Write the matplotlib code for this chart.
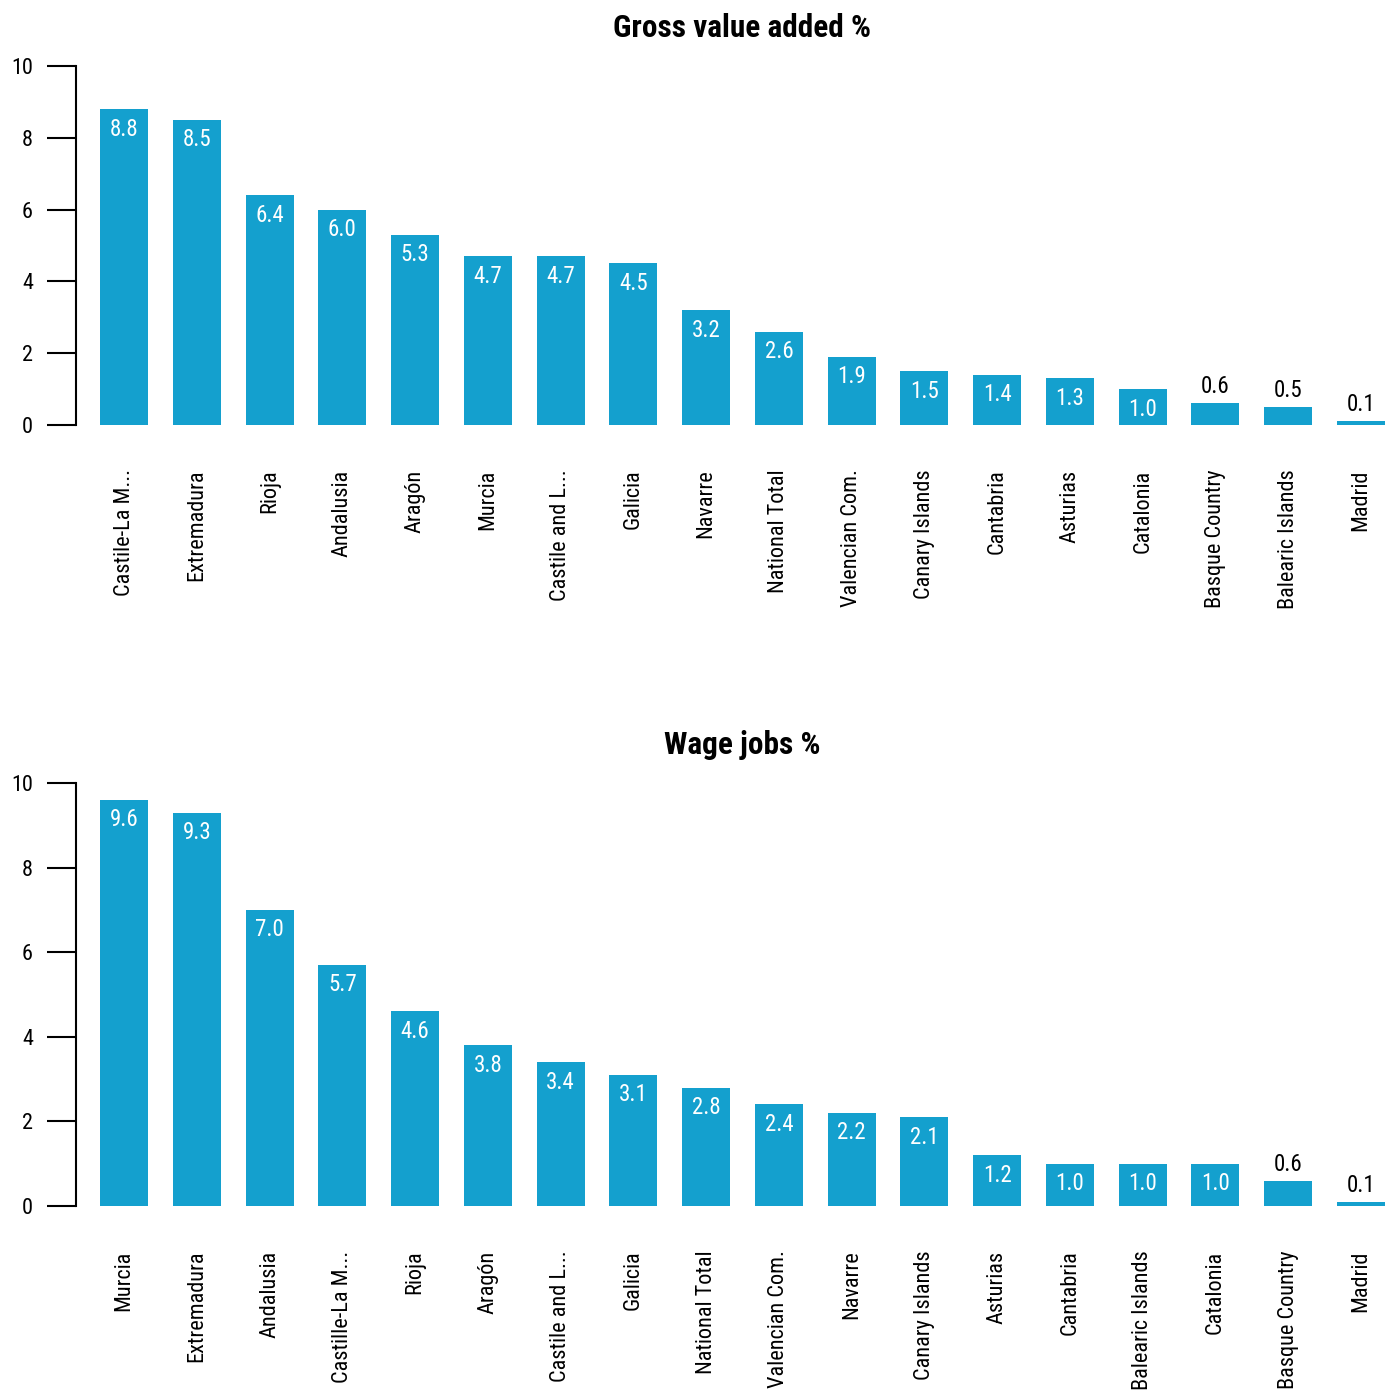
import matplotlib
matplotlib.use("Agg")
import matplotlib.pyplot as plt

plt.rcParams['font.family'] = ['Roboto Condensed', 'Roboto', 'DejaVu Sans']

cats_gva = ["Castile-La M...", "Extremadura", "Rioja", "Andalusia", "Aragón", "Murcia",
            "Castile and L...", "Galicia", "Navarre", "National Total", "Valencian Com.",
            "Canary Islands", "Cantabria", "Asturias", "Catalonia", "Basque Country",
            "Balearic Islands", "Madrid"]
vals_gva = [8.8, 8.5, 6.4, 6.0, 5.3, 4.7, 4.7, 4.5, 3.2, 2.6, 1.9, 1.5, 1.4, 1.3, 1.0, 0.6, 0.5, 0.1]

cats_jobs = ["Murcia", "Extremadura", "Andalusia", "Castille-La M...", "Rioja", "Aragón",
             "Castile and L...", "Galicia", "National Total", "Valencian Com.", "Navarre",
             "Canary Islands", "Asturias", "Cantabria", "Balearic Islands", "Catalonia",
             "Basque Country", "Madrid"]
vals_jobs = [9.6, 9.3, 7.0, 5.7, 4.6, 3.8, 3.4, 3.1, 2.8, 2.4, 2.2, 2.1, 1.2, 1.0, 1.0, 1.0, 0.6, 0.1]

yticks = [0, 2, 4, 6, 8, 10]
BAR = '#14a0ce'

fig = plt.figure(figsize=(13.95, 13.9), dpi=100)
W, H = 1395, 1390

def panel(rect, cats, vals, title, title_y):
    ax = fig.add_axes(rect)
    x = list(range(len(cats)))
    ax.bar(x, vals, width=0.66, color=BAR)
    ax.set_xlim(-0.66, 17.33)
    ax.set_ylim(0, 10)
    ax.set_yticks(yticks)
    ax.set_yticklabels([str(t) for t in yticks], fontsize=16)
    ax.set_xticks(x)
    ax.set_xticklabels(cats, rotation=90, fontsize=16, va='top', ha='center')
    ax.tick_params(axis='x', length=0, pad=32)
    ax.tick_params(axis='y', length=21, width=1.5, pad=10, direction='out')
    for s in ['top', 'right', 'bottom']:
        ax.spines[s].set_visible(False)
    ax.spines['left'].set_linewidth(1.5)
    ax.spines['left'].set_bounds(0, 10)
    for xi, v in zip(x, vals):
        if v >= 1.0:
            ax.annotate(f"{v:.1f}", (xi, v), xytext=(0, -20), textcoords='offset pixels',
                        ha='center', va='center', color='white', fontsize=16.5)
        else:
            ax.annotate(f"{v:.1f}", (xi, v), xytext=(0, 5), textcoords='offset pixels',
                        ha='center', va='bottom', color='black', fontsize=16.5)
    fig.text(742 / W, 1 - title_y / H, title, ha='center', va='center',
             fontsize=22.5, fontweight='bold')
    return ax

panel([76 / W, 1 - 425 / H, (1385 - 76) / W, (425 - 66) / H], cats_gva, vals_gva,
      "Gross value added %", 28)
panel([76 / W, 1 - 1206 / H, (1385 - 76) / W, (1206 - 783) / H], cats_jobs, vals_jobs,
      "Wage jobs %", 745)

fig.savefig("out.png", dpi=100)
